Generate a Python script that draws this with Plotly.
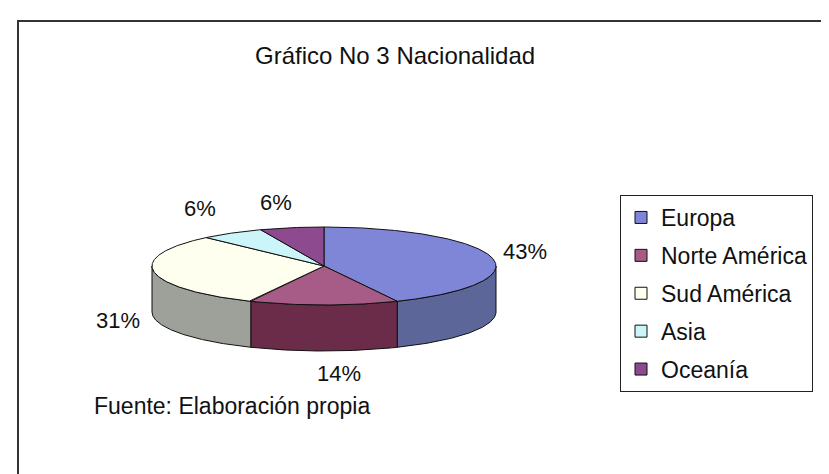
import numpy as np
import plotly.graph_objects as go

# ---- data ----
categories = ["Europa", "Norte América", "Sud América", "Asia", "Oceanía"]
values = [43, 14, 31, 6, 6]
title_text = "Gráfico No 3 Nacionalidad"
source_text = "Fuente: Elaboración propia"

# ---- styles ----
top_colors = ["#7F86D8", "#A65C86", "#FFFFF0", "#CCF5FA", "#8E4A8E"]
side_colors = ["#5C6699", "#6A2C48", "#9EA19A", "#9ABFC4", "#5E2F5E"]
label_shift = [(33, -6), (15, 68), (-36, 48), (-32, -25), (-16, -25)]  # pixel nudges of labels
FONT = "Liberation Sans, Arial, sans-serif"

W, H = 829, 474
cx, cy, rx, ry, depth = 316, 258, 172, 39, 46

total = sum(values)
fractions = np.array(values, dtype=float) / total
ends = np.cumsum(fractions) * 360.0
starts = ends - fractions * 360.0


def arc(a0, a1, dy=0.0):
    n = max(int(abs(a1 - a0) * 2), 2)
    t = np.radians(np.linspace(a0, a1, n))
    return cx + rx * np.sin(t), cy - ry * np.cos(t) + dy


fig = go.Figure()

# side walls (front half: 90..270 deg measured clockwise from 12 o'clock)
for i, (a0, a1) in enumerate(zip(starts, ends)):
    s0, s1 = max(a0, 90.0), min(a1, 270.0)
    if s1 <= s0:
        continue
    tx, ty = arc(s0, s1)
    bx, by = arc(s1, s0, depth)
    xs = np.concatenate([tx, bx, tx[:1]])
    ys = np.concatenate([ty, by, ty[:1]])
    fig.add_trace(go.Scatter(x=xs, y=ys, mode="lines", fill="toself",
                             fillcolor=side_colors[i], line=dict(color="#111111", width=1),
                             hoverinfo="skip", showlegend=False))

# top faces
for i, (a0, a1) in enumerate(zip(starts, ends)):
    ax_, ay_ = arc(a0, a1)
    xs = np.concatenate([[cx], ax_, [cx]])
    ys = np.concatenate([[cy], ay_, [cy]])
    fig.add_trace(go.Scatter(x=xs, y=ys, mode="lines", fill="toself",
                             fillcolor=top_colors[i], line=dict(color="#111111", width=1),
                             hoverinfo="text", text=f"{categories[i]}: {values[i]}",
                             showlegend=False))

# legend entries
for i, c in enumerate(categories):
    fig.add_trace(go.Scatter(x=[None], y=[None], mode="markers", name=c,
                             legendgroup=c,
                             marker=dict(symbol="square", size=12, color=top_colors[i],
                                         line=dict(color="#111111", width=1))))

# percentage labels
for i, (a0, a1) in enumerate(zip(starts, ends)):
    mid = (a0 + a1) / 2.0
    t = np.radians(mid)
    px, py = cx + rx * np.sin(t), cy - ry * np.cos(t)
    dx, dy = label_shift[i]
    fig.add_annotation(x=px, y=py, xref="x", yref="y", showarrow=False,
                       text=f"{round(fractions[i] * 100)}%", xshift=dx, yshift=-dy,
                       font=dict(family=FONT, size=22, color="#111111"))

fig.add_annotation(x=387, y=47, xref="x", yref="y", showarrow=False, text=title_text,
                   font=dict(family=FONT, size=24, color="#111111"))
fig.add_annotation(x=84, y=398, xref="x", yref="y", showarrow=False, text=source_text,
                   xanchor="left", font=dict(family=FONT, size=23, color="#111111"))

# outer frame
fig.add_shape(type="rect", xref="x", yref="y", x0=10, y0=13, x1=W + 20, y1=H + 20,
              line=dict(color="#333333", width=2))

fig.update_layout(
    width=W, height=H,
    margin=dict(l=0, r=0, t=0, b=0),
    paper_bgcolor="white", plot_bgcolor="white",
    xaxis=dict(range=[0, W], visible=False, fixedrange=True),
    yaxis=dict(range=[H, 0], visible=False, fixedrange=True),
    showlegend=True,
    legend=dict(x=612 / W, y=1 - 187 / H, xanchor="left", yanchor="top",
                bordercolor="#222222", borderwidth=1, bgcolor="white",
                font=dict(family=FONT, size=23, color="#111111"),
                tracegroupgap=5, traceorder="grouped", itemwidth=30),
)

fig.write_html("out.html")
